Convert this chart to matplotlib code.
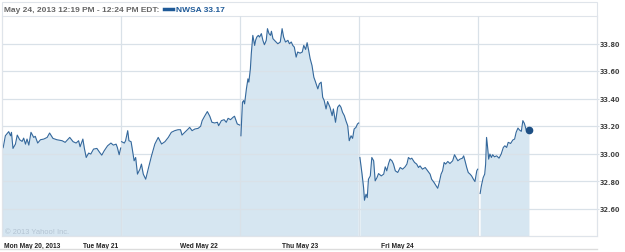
import matplotlib.pyplot as plt
from matplotlib.lines import Line2D
from matplotlib.patches import Rectangle

# NWSA intraday, May 20-24 2013: minutes after the 9:30 open, and price
mon_min = [0, 4, 11, 22, 28, 31, 36, 44, 50, 58, 66, 71, 77, 82, 88, 95, 104, 109, 117, 126,
           137, 148, 156, 167, 180, 197, 207, 222, 233, 243, 251, 256, 265, 270, 276, 284,
           291, 300, 311, 320, 327, 335, 346, 357, 365, 374, 378, 384, 389]
mon_px = [33.03, 33.044, 33.129, 33.159, 33.129, 33.154, 33.037, 33.068, 33.134, 33.100,
          33.088, 33.112, 33.068, 33.105, 33.061, 33.154, 33.117, 33.125, 33.076, 33.100,
          33.105, 33.117, 33.149, 33.110, 33.100, 33.093, 33.081, 33.117, 33.086, 33.076,
          33.093, 33.049, 33.105, 33.037, 32.971, 33.003, 32.996, 33.032, 33.037, 33.008,
          32.988, 33.020, 33.056, 33.076, 33.061, 33.068, 33.044, 32.991, 33.04]

tue_min = [2, 11, 15, 22, 26, 33, 37, 43, 48, 54, 62, 67, 73, 81, 89, 100, 111, 122, 133,
           144, 155, 165, 176, 187, 195, 200, 209, 220, 225, 233, 242, 253, 261, 266, 274,
           283, 291, 298, 307, 316, 320, 329, 338, 345, 351, 359, 367, 372, 381, 389]
tue_px = [33.086, 33.076, 33.093, 33.166, 33.093, 33.086, 33.032, 32.947, 32.971, 32.850,
          32.886, 32.923, 32.850, 32.813, 32.886, 32.983, 33.069, 33.117, 33.069, 33.086,
          33.117, 33.154, 33.166, 33.173, 33.173, 33.134, 33.154, 33.178, 33.190, 33.166,
          33.178, 33.183, 33.198, 33.239, 33.271, 33.305, 33.271, 33.227, 33.222, 33.227,
          33.202, 33.239, 33.246, 33.227, 33.256, 33.246, 33.263, 33.271, 33.215, 33.207]

wed_min = [3, 8, 12, 15, 21, 26, 29, 34, 37, 42, 48, 51, 55, 60, 64, 70, 75, 80, 86, 90, 95,
           100, 103, 108, 116, 124, 132, 138, 143, 149, 157, 162, 168, 173, 178, 184, 189,
           197, 204, 209, 215, 220, 225, 230, 236, 242, 247, 255, 260, 266, 271, 276, 282,
           287, 295, 302, 306, 313, 320, 326, 331, 336, 342, 347, 353, 358, 364, 369, 374,
           380, 385, 389]
wed_px = [33.129, 33.373, 33.385, 33.361, 33.470, 33.543, 33.519, 33.616, 33.726, 33.859,
          33.786, 33.823, 33.847, 33.859, 33.847, 33.872, 33.823, 33.791, 33.823, 33.908,
          33.872, 33.859, 33.889, 33.835, 33.816, 33.798, 33.811, 33.908, 33.847, 33.811,
          33.823, 33.798, 33.811, 33.786, 33.774, 33.701, 33.738, 33.730, 33.738, 33.786,
          33.757, 33.806, 33.750, 33.689, 33.640, 33.555, 33.524, 33.470, 33.507, 33.519,
          33.409, 33.385, 33.324, 33.378, 33.336, 33.275, 33.324, 33.227, 33.336, 33.353,
          33.336, 33.300, 33.275, 33.239, 33.202, 33.093, 33.129, 33.110, 33.178, 33.190,
          33.215, 33.222]

thu_min = [3, 10, 15, 18, 23, 27, 31, 37, 42, 48, 53, 59, 64, 73, 81, 86, 91, 97, 102, 108,
           113, 119, 127, 135, 143, 151, 157, 162, 168, 173, 182, 189, 195, 200, 208, 217,
           225, 233, 238, 246, 253, 258, 263, 269, 274, 279, 284, 291, 298, 307, 313, 318,
           324, 331, 339, 343, 348, 353, 358, 364, 369, 375, 380, 386, 389]
thu_px = [32.971, 32.850, 32.752, 32.660, 32.704, 32.679, 32.813, 32.837, 32.971, 32.947,
          32.801, 32.825, 32.854, 32.837, 32.850, 32.903, 32.874, 32.927, 32.959, 32.947,
          32.923, 32.874, 32.862, 32.898, 32.886, 32.903, 32.923, 32.971, 32.959, 32.966,
          32.935, 32.923, 32.898, 32.910, 32.886, 32.898, 32.874, 32.850, 32.813, 32.789,
          32.764, 32.747, 32.789, 32.850, 32.874, 32.935, 32.923, 32.942, 32.927, 32.947,
          32.991, 32.971, 32.947, 32.959, 32.966, 32.983, 32.942, 32.898, 32.862, 32.850,
          32.837, 32.813, 32.796, 32.874, 32.886]

fri_min = [7, 11, 17, 22, 25, 28, 31, 35, 39, 44, 48, 54, 61, 69, 76, 83, 88, 94, 99, 107,
           114, 120, 125, 131, 136, 142, 147, 152, 158, 163, 167]
fri_px = [32.709, 32.764, 32.825, 32.850, 32.923, 33.117, 33.056, 32.959, 32.996, 32.971,
          32.991, 32.976, 32.983, 32.966, 32.996, 33.044, 33.056, 33.044, 33.081, 33.073,
          33.098, 33.105, 33.154, 33.185, 33.171, 33.161, 33.239, 33.219, 33.171, 33.166,
          33.171]

day_labels = ["Mon May 20, 2013", "Tue May 21", "Wed May 22", "Thu May 23", "Fri May 24"]
label_pos = [0.013, 0.683, 1.496, 2.351, 3.181]  # where yahoo put the day names
price_ticks = [32.60, 32.80, 33.00, 33.20, 33.40, 33.60, 33.80]
session_len = 390

days = [(mon_min, mon_px), (tue_min, tue_px), (wed_min, wed_px),
        (thu_min, thu_px), (fri_min, fri_px)]

line_c = "#34689c"
fill_c = "#d6e6f1"
grid_c = "#d9e1e8"
txt_font = ["Liberation Sans", "DejaVu Sans"]

fig = plt.figure(figsize=(6.25, 2.53), dpi=100)
ax = fig.add_axes([2 / 625, 16 / 253, 595 / 625, 220 / 253])

for i, (mins, px) in enumerate(days):
    xs = [i + m / session_len for m in mins]
    ax.fill_between(xs, px, 32.0, color=fill_c, lw=0, zorder=1)
    ax.plot(xs, px, color=line_c, lw=0.8, zorder=3)

# last quote
ax.plot(4 + fri_min[-1] / session_len, fri_px[-1], "o", color="#1d4f84", ms=4.5, zorder=4)

ax.set_xlim(0, 5)
ax.set_ylim(32.40, 34.00)

ax.set_yticks(price_ticks)
ax.set_yticklabels([f"{v:.2f}" for v in price_ticks])
ax.yaxis.tick_right()
ax.tick_params(axis="y", length=1.5, color=grid_c, pad=0.5, labelsize=4.7,
               labelcolor="#444444")
for t in ax.get_yticklabels():
    t.set_fontweight("bold")

ax.set_xticks(label_pos)
ax.set_xticklabels(day_labels, ha="left")
ax.set_xticks([1, 2, 3, 4], minor=True)
ax.tick_params(axis="x", which="both", length=0, pad=4.5, labelcolor="#222222")
for t in ax.get_xticklabels():
    t.set_fontweight("bold")
    t.set_family(txt_font)
    t.set_fontsize(4.8)

ax.grid(axis="y", color=grid_c, lw=0.9, zorder=2)
ax.grid(axis="x", which="minor", color=grid_c, lw=0.9, zorder=2)
ax.set_axisbelow(False)

for s in ax.spines.values():
    s.set_color("#dfe4ea")
    s.set_linewidth(0.8)

ax.text(0.005, 0.015, "\u00a9 2013 Yahoo! Inc.", transform=ax.transAxes,
        fontsize=5.4, color="#b3c3d2", zorder=5, family=txt_font)

# header strip
fig.patches.append(Rectangle((2 / 625, 16 / 253), 595 / 625, 234 / 253,
                             transform=fig.transFigure, fill=False,
                             ec="#dfe4ea", lw=0.8))
fig.text(4 / 625, 1 - 10 / 253, "May 24, 2013 12:19 PM - 12:24 PM EDT:",
         fontsize=6.0, fontweight="bold", color="#666666", va="center", family=txt_font)
fig.add_artist(Line2D([164 / 625, 173 / 625], [1 - 10 / 253, 1 - 10 / 253],
                      transform=fig.transFigure, color="#1f5a98", lw=2.5))
fig.text(176 / 625, 1 - 10 / 253, "NWSA 33.17", fontsize=6.0, fontweight="bold",
         color="#1f5a98", va="center", family=txt_font)
fig.add_artist(Line2D([0, 597 / 625], [1 - 250 / 253, 1 - 250 / 253],
                      transform=fig.transFigure, color="#dcdcdc", lw=1))

fig.savefig("out.png", dpi=100)
